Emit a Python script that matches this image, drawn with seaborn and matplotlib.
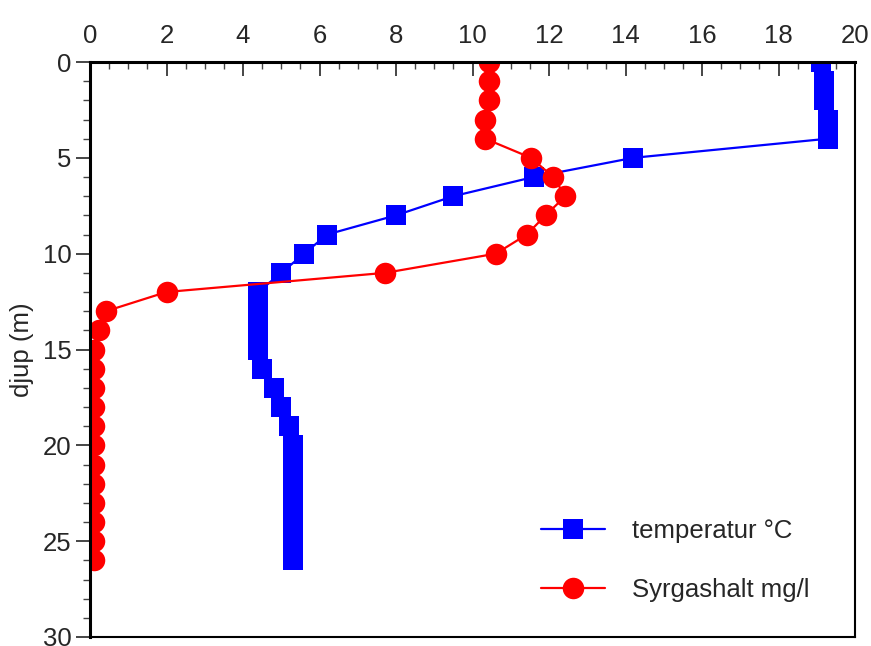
import matplotlib
matplotlib.use("Agg")
import matplotlib.pyplot as plt
from matplotlib.ticker import MultipleLocator
import pandas as pd
import seaborn as sns

# djup (m)
depth = list(range(0, 27))

# temperatur °C
temperature = [19.1, 19.18, 19.18, 19.3, 19.3, 14.2, 11.6, 9.5, 8.0, 6.2,
               5.6, 5.0, 4.4, 4.4, 4.4, 4.4, 4.5, 4.8, 5.0, 5.2,
               5.3, 5.3, 5.3, 5.3, 5.3, 5.3, 5.3]

# Syrgashalt mg/l
oxygen = [10.42, 10.42, 10.42, 10.33, 10.33, 11.53, 12.11, 12.43, 11.91, 11.42,
          10.61, 7.72, 2.0, 0.42, 0.24, 0.1, 0.1, 0.1, 0.1, 0.1,
          0.1, 0.1, 0.1, 0.1, 0.1, 0.1, 0.1]

labels = ["temperatur °C", "Syrgashalt mg/l"]

df = pd.DataFrame({"djup": depth, "temp": temperature, "syre": oxygen})

sns.set_style("ticks")
plt.rcParams["font.family"] = ["Liberation Sans", "DejaVu Sans"]
fs = 18.5

fig = plt.figure(figsize=(8.71, 6.46), dpi=100)
ax = fig.add_axes([90 / 871, 1 - 637 / 646, 765 / 871, 575 / 646])

sns.lineplot(data=df, x="temp", y="djup", orient="y", ax=ax, color="#0000ff",
             marker="s", markersize=15, markeredgewidth=0, linewidth=1.6,
             label=labels[0])
sns.lineplot(data=df, x="syre", y="djup", orient="y", ax=ax, color="#ff0000",
             marker="o", markersize=15.5, markeredgewidth=0, linewidth=1.6,
             label=labels[1])

ax.set_xlim(0, 20)
ax.set_ylim(30, 0)
ax.xaxis.set_major_locator(MultipleLocator(2))
ax.xaxis.set_minor_locator(MultipleLocator(0.5))
ax.yaxis.set_major_locator(MultipleLocator(5))
ax.yaxis.set_minor_locator(MultipleLocator(1))

ax.xaxis.tick_top()
ax.tick_params(axis="x", which="both", direction="in", labelsize=fs, pad=10,
               top=True, bottom=False)
ax.tick_params(axis="x", which="major", length=10, width=1.2)
ax.tick_params(axis="x", which="minor", length=5, width=1, color="#444444")
ax.tick_params(axis="y", which="both", direction="out", labelsize=fs)
ax.tick_params(axis="y", which="major", length=10, width=1.2)
ax.tick_params(axis="y", which="minor", length=5, width=1, color="#444444")

for side in ["left", "top"]:
    ax.spines[side].set_linewidth(2.2)
for side in ["right", "bottom"]:
    ax.spines[side].set_linewidth(1.5)
for s in ax.spines.values():
    s.set_color("black")
    s.set_visible(True)

ax.set_xlabel("")
ax.set_ylabel("djup (m)", fontsize=fs, labelpad=6)

ax.legend(loc="upper left", bbox_to_anchor=(541 / 871, 1 - 519 / 646),
          bbox_transform=fig.transFigure, frameon=False, fontsize=fs,
          borderaxespad=0, borderpad=0, handlelength=2.5, handletextpad=1.05,
          labelspacing=1.35)

fig.savefig("out.png", dpi=100)
